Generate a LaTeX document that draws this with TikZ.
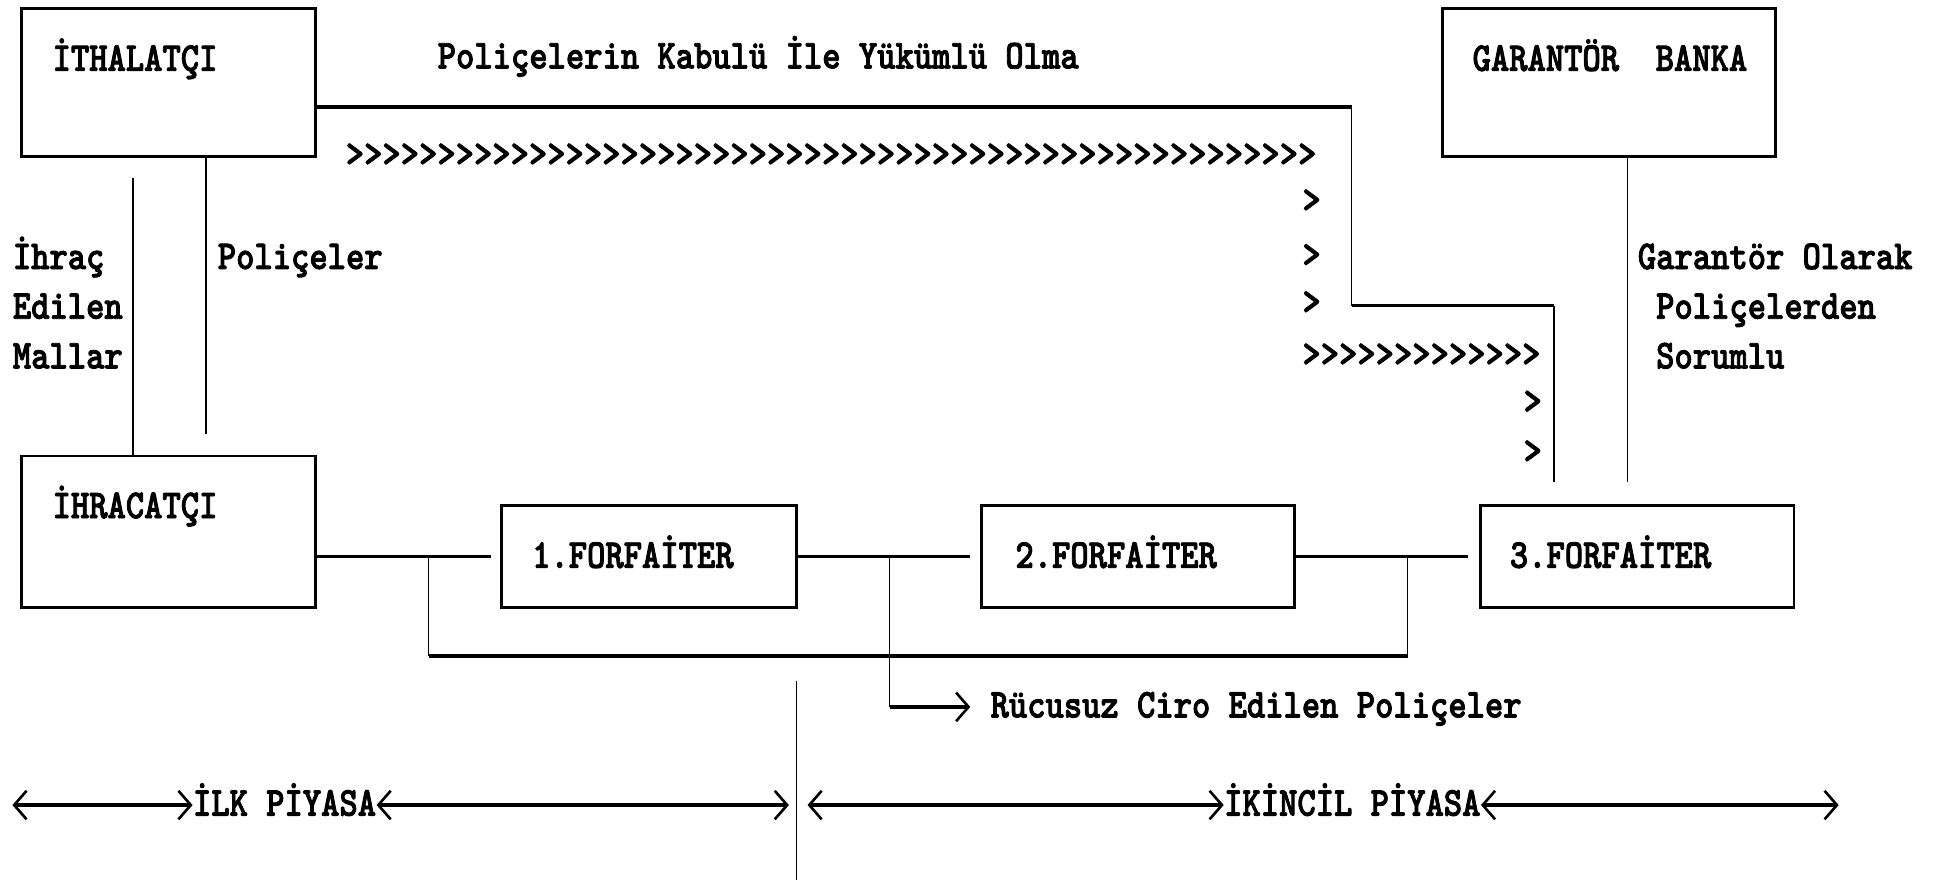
\documentclass[tikz,border=0pt]{standalone}
\usepackage{fontspec}
\newfontfamily\courfont[FakeStretch=0.85, FakeBold=2]{lmmonolt10-bold.otf}
\usetikzlibrary{arrows.meta}

\tikzset{
  barb/.tip={Straight Barb[length=0.2cm, width=0.46cm, line width=1.2pt]}
}

\begin{document}
\begin{tikzpicture}[
    x=0.02cm, y=-0.02cm,
    box/.style={draw, line width=1.3pt, inner sep=0pt},
    txt/.style={font=\courfont\fontsize{18.8}{22.76}\selectfont,
                inner sep=0pt, anchor=base west},
    link/.style={line width=1.6pt},
    wire/.style={line width=0.7pt},
    dbl/.style={link, barb-barb}
  ]
  \useasboundingbox (0,0) rectangle (1568,708);

  % Parties
  \node[box, minimum width=237*0.02cm, minimum height=119*0.02cm] (ithal) at (135.5,66.5) {};
  \node[box, minimum width=268*0.02cm, minimum height=119*0.02cm] (garantor) at (1295,66.5) {};
  \node[box, minimum width=237*0.02cm, minimum height=122*0.02cm] (ihrac) at (135.5,428) {};
  \node[box, minimum width=237*0.02cm, minimum height=82*0.02cm] (f1) at (522.5,448) {};
  \node[box, minimum width=252*0.02cm, minimum height=82*0.02cm] (f2) at (916,448) {};
  \node[box, minimum width=252*0.02cm, minimum height=82*0.02cm] (f3) at (1318,448) {};

  \node[txt] (ithal-t) at (42,57) {İTHALATÇI};
  \node[txt] (garantor-t) at (1185,57) {GARANTÖR\ \ BANKA};
  \node[txt] (ihrac-t) at (42,417) {İHRACATÇI};
  \node[txt] (f1-t) at (428,457) {1.FORFAİTER};
  \node[txt] (f2-t) at (817,457) {2.FORFAİTER};
  \node[txt] (f3-t) at (1215,457) {3.FORFAİTER};

  % Labels
  \node[txt] (kabul) at (352,55) {Poliçelerin Kabulü İle Yükümlü Olma};
  \node[txt, align=left] (mal) at (10,296.5) {İhraç\\Edilen\\Mallar};
  \node[txt] (pol) at (175,216.5) {Poliçeler};
  \node[txt, align=left] (sorumlu) at (1318,296.5)
    {Garantör Olarak\\\hphantom{P}Poliçelerden\\\hphantom{P}Sorumlu};
  \node[txt] (rucu) at (797,577.5) {Rücusuz Ciro Edilen Poliçeler};
  \node[txt] (ilk) at (155,656.5) {İLK PİYASA};
  \node[txt] (ikincil) at (985,656.5) {İKİNCİL PİYASA};

  % Chevron trail
  \node[txt] (chev-a) at (278,134) {\foreach \i in {1,...,53}{>}};
  \foreach \y [count=\k] in {163,207,245} { \node[txt] (chev-b\k) at (1048,\y+8) {>}; }
  \node[txt] (chev-c) at (1048,295) {\foreach \i in {1,...,13}{>}};
  \foreach \y [count=\k] in {325,365} { \node[txt] (chev-d\k) at (1226,\y+8) {>}; }

  % Acceptance line
  \coordinate (start-a) at (ithal.east |- 0,86);
  \coordinate (bend-a) at (1088,86);
  \coordinate (bend-b) at (1088,246);
  \coordinate (bend-c) at (1251,246);
  \coordinate (top-end) at (1251,388);
  \draw[link] (start-a) -- (bend-a);
  \draw[wire] (bend-a) -- (bend-b);
  \draw[link] (bend-b) -- (bend-c);
  \draw[wire] (bend-c) -- (top-end);

  % Guarantee line
  \coordinate (gar-end) at (1310,388);
  \draw[wire] (garantor.south -| gar-end) -- (gar-end);

  % Goods and bills
  \coordinate (mal-top) at (107,143);
  \coordinate (pol-bot) at (166,349);
  \draw[wire] (mal-top) -- (mal-top |- ihrac.north);
  \draw[wire] (pol-bot |- ithal.south) -- (pol-bot);

  % Forfaiting chain
  \draw[link, shorten >=0.16cm] (ihrac.east |- f1.west) -- (f1.west);
  \draw[link, shorten >=0.16cm] (f1.east) -- (f2.west);
  \draw[link, shorten >=0.18cm] (f2.east) -- (f3.west);

  \coordinate (j1) at (345,448);
  \coordinate (j2) at (1133,448);
  \coordinate (j3) at (716,448);
  \coordinate (loop-a) at (345,528);
  \coordinate (loop-b) at (1133,528);
  \coordinate (rucu-bend) at (716,569);
  \coordinate (rucu-tip) at (781,569);
  \draw[wire] (j1) -- (loop-a);
  \draw[link] (loop-a) -- (loop-b);
  \draw[wire] (loop-b) -- (j2);
  \draw[wire] (j3) -- (rucu-bend);
  \draw[link, -barb] (rucu-bend) -- (rucu-tip);

  % Markets
  \coordinate (m-left) at (10,648);
  \coordinate (m-right) at (1480,648);
  \coordinate (m-a) at (635,648);
  \coordinate (m-b) at (650,648);
  \coordinate (div-top) at (641,548);
  \coordinate (div-bot) at (641,708);
  \draw[dbl] (m-left) -- (m-left -| ilk.west);
  \draw[dbl] (m-left -| ilk.east) -- (m-a);
  \draw[wire] (div-top) -- (div-bot);
  \draw[dbl] (m-b) -- (m-left -| ikincil.west);
  \draw[dbl] (m-left -| ikincil.east) -- (m-right);

\end{tikzpicture}
\end{document}
